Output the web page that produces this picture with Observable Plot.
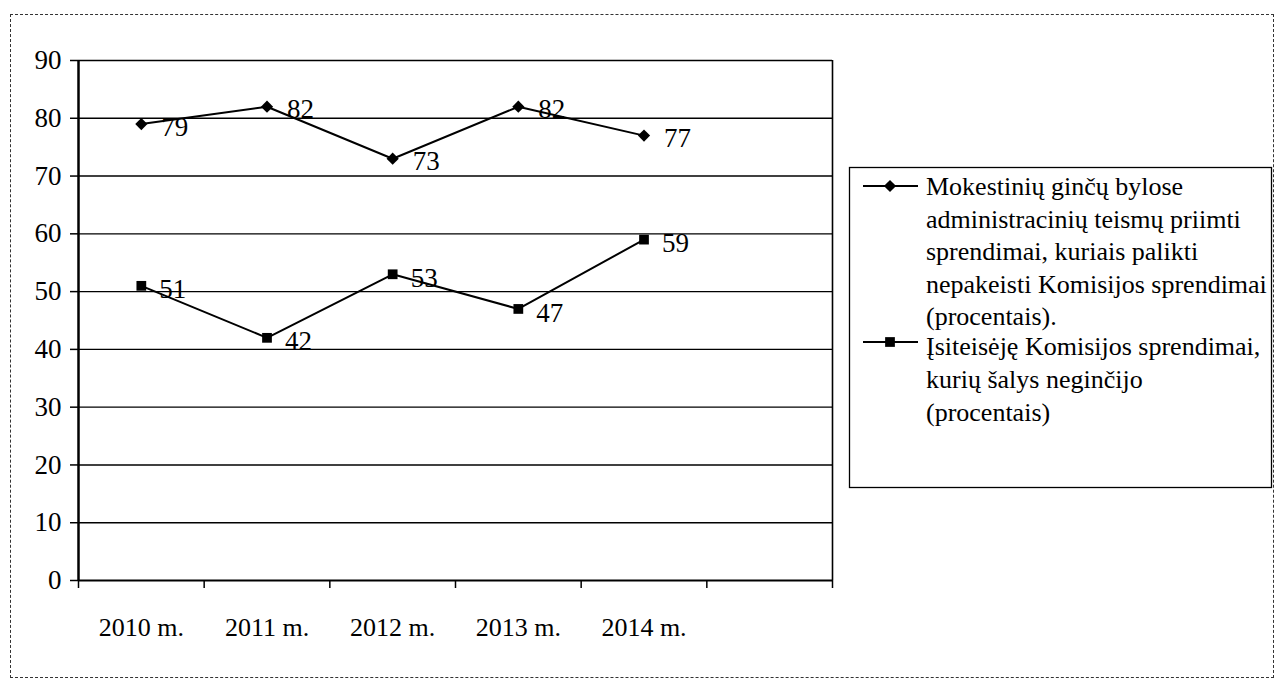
<!DOCTYPE html>
<html>
<head>
<meta charset="utf-8">
<script src="https://cdn.jsdelivr.net/npm/d3@7"></script>
<script src="https://cdn.jsdelivr.net/npm/@observablehq/plot@0.6"></script>
<style>
  html, body { margin: 0; padding: 0; background: #fff; }
  #wrap { position: relative; width: 1287px; height: 686px; overflow: hidden; }
  #frame { position: absolute; left: 10px; top: 14px; width: 1264px; height: 664px;
           border: 1.5px dashed #333; box-sizing: border-box; pointer-events: none; }
  #legend { position: absolute; left: 0; top: 0; pointer-events: none; }
  #chart svg text { font-family: 'Liberation Serif', 'Times New Roman', serif; }
</style>
</head>
<body>
<div id="wrap">
  <div id="chart"></div>
  <div id="frame"></div>
</div>
<script>
// ---- data ----
const years = ["2010 m.", "2011 m.", "2012 m.", "2013 m.", "2014 m."];
const series1 = [79, 82, 73, 82, 77]; // Mokestinių ginčų bylose ... (procentais).
const series2 = [51, 42, 53, 47, 59]; // Įsiteisėję Komisijos sprendimai ... (procentais)
const yTicks = [0, 10, 20, 30, 40, 50, 60, 70, 80, 90];
const legend1 = ["Mokestinių ginčų bylose", "administracinių teismų priimti",
  "sprendimai, kuriais palikti", "nepakeisti Komisijos sprendimai", "(procentais)."];
const legend2 = ["Įsiteisėję Komisijos sprendimai,", "kurių šalys neginčijo", "(procentais)"];

const rows1 = years.map((year, i) => ({pos: i + 0.5, year, v: series1[i]}));
const rows2 = years.map((year, i) => ({pos: i + 0.5, year, v: series2[i]}));
const nBands = years.length + 1;
const boundaries = d3.range(nBands + 1);
const centers = years.map((d, i) => i + 0.5);

const serif = "'Liberation Serif', 'Times New Roman', serif";
const chart = Plot.plot({
  width: 1287,
  height: 686,
  marginLeft: 78,
  marginRight: 455,
  marginTop: 60,
  marginBottom: 106,
  style: {fontFamily: serif, fontSize: "26px", color: "black", background: "transparent"},
  x: {type: "linear", domain: [0, nBands], label: null},
  y: {domain: [0, 90], label: null},
  marks: [
    Plot.ruleY(yTicks.filter(d => d > 0), {stroke: "black", strokeWidth: 1.4}),
    Plot.ruleY([0], {stroke: "black", strokeWidth: 2}),
    Plot.ruleX([0], {stroke: "black", strokeWidth: 2.5}),
    Plot.ruleX([nBands], {stroke: "black", strokeWidth: 1.6}),
    Plot.axisY({ticks: yTicks, tickSize: 8, tickPadding: 9, label: null, fontSize: 27, tickFormat: d => String(d), strokeWidth: 1.5}),
    Plot.axisX({ticks: boundaries, tickSize: 8, label: null, tickFormat: () => "", strokeWidth: 1.5}),
    Plot.axisX({ticks: centers, tickSize: 0, tickPadding: 37, label: null, fontSize: 26, tickFormat: d => years[Math.round(d - 0.5)]}),
    Plot.line(rows1, {x: "pos", y: "v", stroke: "black", strokeWidth: 2}),
    Plot.line(rows2, {x: "pos", y: "v", stroke: "black", strokeWidth: 2}),
    Plot.dot(rows1, {x: "pos", y: "v", symbol: "diamond2", fill: "black", r: 5.5}),
    Plot.dot(rows2, {x: "pos", y: "v", symbol: "square", fill: "black", r: 5.5}),
    Plot.text(rows1, {x: "pos", y: "v", text: d => String(d.v), textAnchor: "start", fontSize: 27, dx: 20, dy: 3}),
    Plot.text(rows2, {x: "pos", y: "v", text: d => String(d.v), textAnchor: "start", fontSize: 27, dx: 18, dy: 4})
  ]
});
document.getElementById("chart").appendChild(chart);

// ---- legend overlay ----
const wrap = d3.select("#wrap");
const lg = wrap.append("svg").attr("id", "legend").attr("width", 1287).attr("height", 686)
  .style("font-family", serif).style("font-size", "26px");
lg.append("rect").attr("x", 849.5).attr("y", 167.5).attr("width", 422).attr("height", 320)
  .attr("fill", "none").attr("stroke", "black").attr("stroke-width", 1.3);
const item = (ySym, lines, yStart, step, sym) => {
  lg.append("line").attr("x1", 863).attr("x2", 918).attr("y1", ySym).attr("y2", ySym)
    .attr("stroke", "black").attr("stroke-width", 2);
  lg.append("path").attr("transform", `translate(890,${ySym})`)
    .attr("d", d3.symbol(sym === "diamond" ? d3.symbolDiamond2 : d3.symbolSquare, 95)())
    .attr("fill", "black");
  lines.forEach((t, i) => {
    lg.append("text").attr("x", 926).attr("y", yStart + i * step).text(t);
  });
};
item(186, legend1, 195, 32.5, "diamond");
item(342, legend2, 355, 33, "square");
</script>
</body>
</html>
